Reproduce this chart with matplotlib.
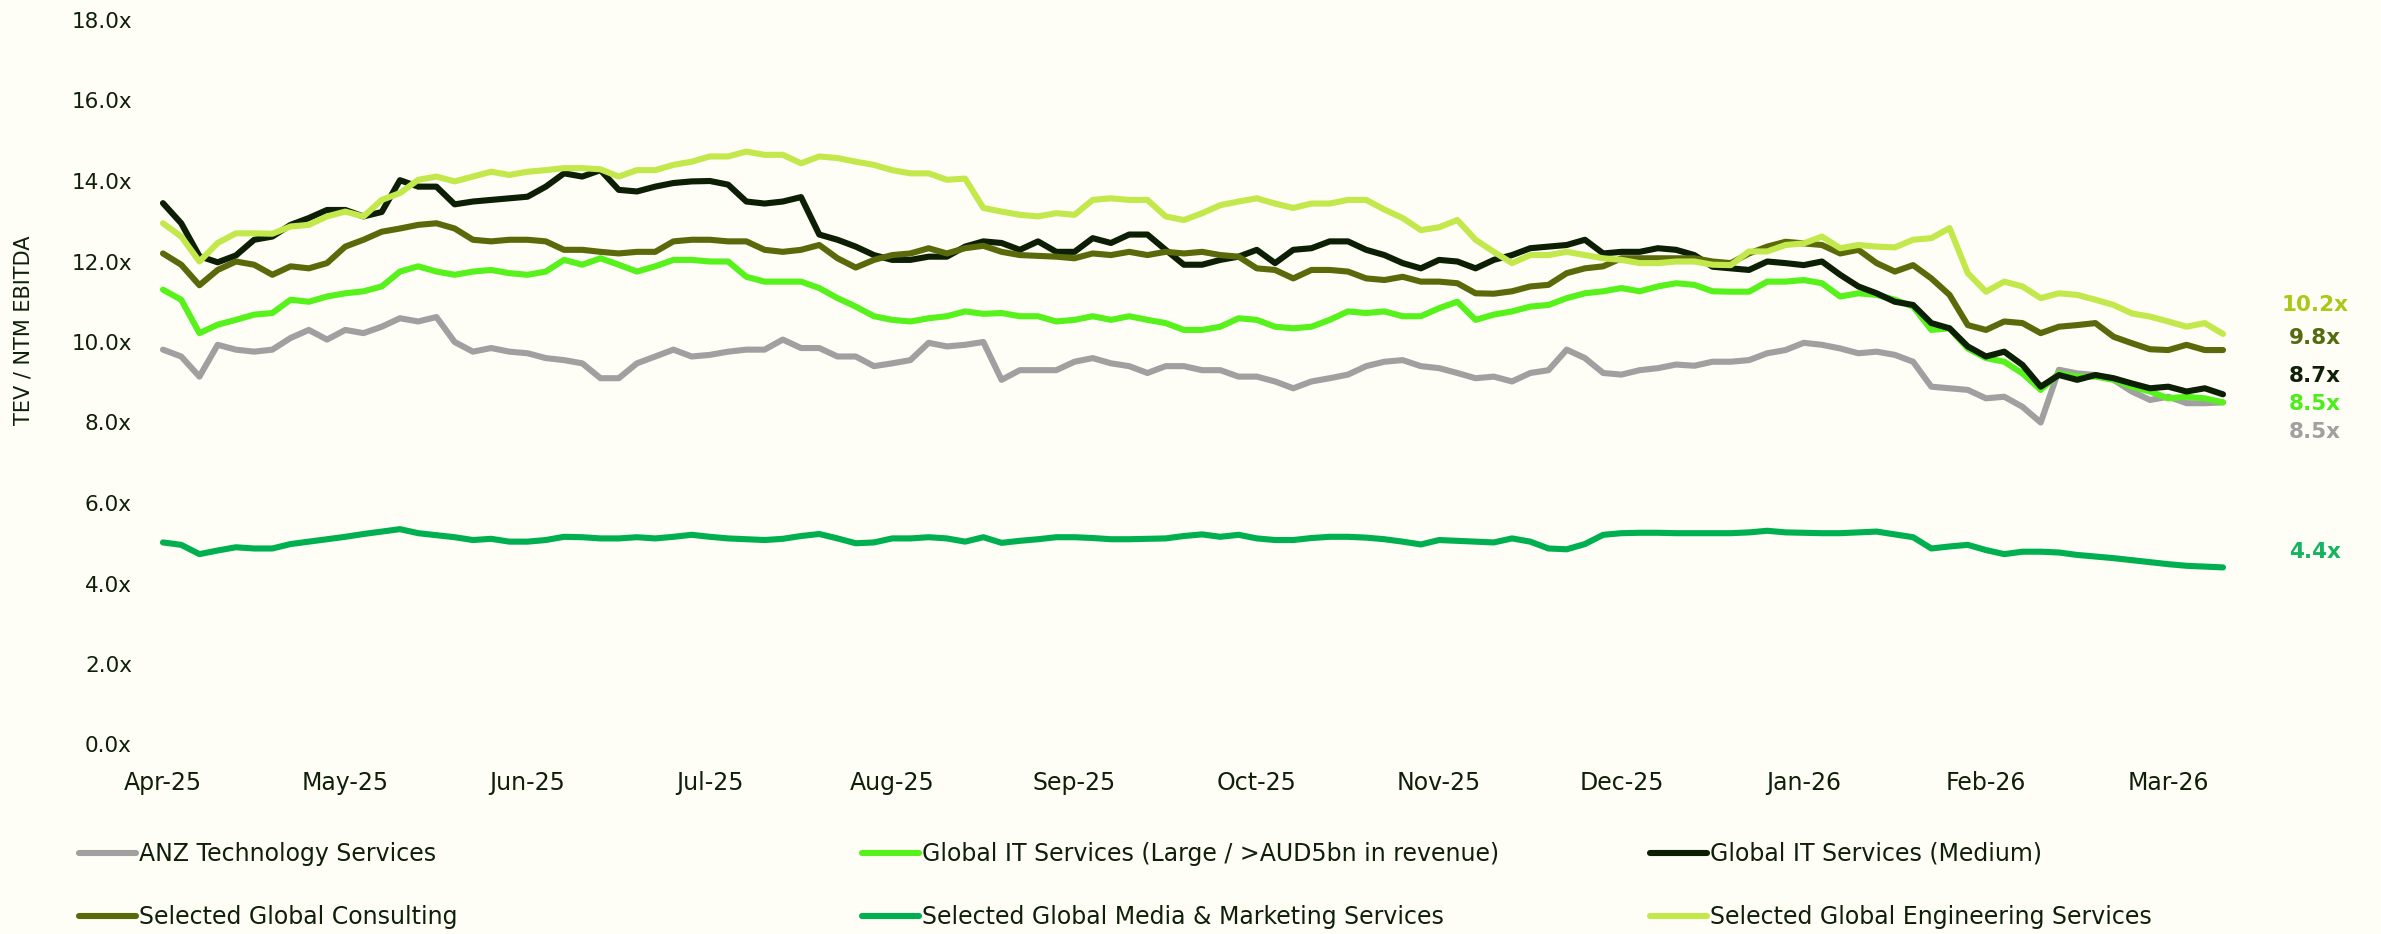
import numpy as np
import matplotlib
matplotlib.use('Agg')
import matplotlib.pyplot as plt

# TEV / NTM EBITDA multiples, sampled every ~0.1 month from Apr-25
months = ['Apr-25', 'May-25', 'Jun-25', 'Jul-25', 'Aug-25', 'Sep-25',
          'Oct-25', 'Nov-25', 'Dec-25', 'Jan-26', 'Feb-26', 'Mar-26']

anz_tech = [9.81, 9.64, 9.14, 9.93, 9.81, 9.76, 9.81, 10.10, 10.30, 10.06, 10.30, 10.22, 10.38, 10.59, 10.51,
            10.62, 10.00, 9.76, 9.85, 9.76, 9.72, 9.60, 9.55, 9.47, 9.10, 9.10, 9.47, 9.64, 9.81,
            9.64, 9.68, 9.76, 9.81, 9.81, 10.06, 9.85, 9.85, 9.64, 9.64, 9.40, 9.47, 9.55, 9.98,
            9.89, 9.93, 10.00, 9.06, 9.30, 9.30, 9.30, 9.51, 9.60, 9.47, 9.40, 9.23, 9.40, 9.40,
            9.30, 9.30, 9.14, 9.14, 9.02, 8.85, 9.02, 9.10, 9.19, 9.40, 9.51, 9.55, 9.40, 9.35,
            9.23, 9.10, 9.14, 9.02, 9.23, 9.30, 9.81, 9.60, 9.23, 9.19, 9.30, 9.35, 9.44, 9.41, 9.51,
            9.51, 9.55, 9.72, 9.80, 9.98, 9.93, 9.84, 9.72, 9.76, 9.68, 9.51, 8.89, 8.85, 8.81,
            8.60, 8.64, 8.39, 8.00, 9.31, 9.22, 9.18, 9.06, 8.77, 8.56, 8.64, 8.48, 8.48, 8.50]

it_large = [11.30, 11.05, 10.22, 10.43, 10.55, 10.68, 10.72, 11.05, 11.00, 11.13, 11.21, 11.26, 11.38, 11.75,
            11.88, 11.75, 11.67, 11.75, 11.79, 11.71, 11.67, 11.75, 12.04, 11.92, 12.08, 11.92, 11.75, 11.88, 12.04,
            12.04, 12.00, 12.00, 11.62, 11.50, 11.50, 11.50, 11.34, 11.09, 10.88, 10.64, 10.55, 10.51, 10.59,
            10.64, 10.76, 10.70, 10.72, 10.64, 10.64, 10.51, 10.55, 10.64, 10.55, 10.64, 10.55, 10.47, 10.30,
            10.30, 10.38, 10.59, 10.55, 10.38, 10.34, 10.38, 10.55, 10.76, 10.72, 10.76, 10.64, 10.64, 10.84,
            11.00, 10.55, 10.68, 10.76, 10.88, 10.92, 11.09, 11.21, 11.26, 11.34, 11.26, 11.38, 11.46, 11.42, 11.26,
            11.25, 11.25, 11.50, 11.50, 11.54, 11.46, 11.13, 11.21, 11.17, 11.05, 10.88, 10.30, 10.34, 9.84,
            9.60, 9.51, 9.22, 8.81, 9.22, 9.14, 9.14, 9.06, 8.89, 8.77, 8.60, 8.64, 8.60, 8.50]

it_medium = [13.45, 12.95, 12.13, 11.98, 12.15, 12.54, 12.62, 12.91, 13.08, 13.28, 13.28, 13.12, 13.23, 14.02,
             13.86, 13.86, 13.42, 13.49, 13.53, 13.57, 13.61, 13.86, 14.19, 14.11, 14.27, 13.78, 13.74, 13.86, 13.95,
             13.99, 14.00, 13.91, 13.49, 13.44, 13.49, 13.60, 12.67, 12.54, 12.37, 12.16, 12.04, 12.04, 12.12,
             12.12, 12.37, 12.50, 12.46, 12.29, 12.50, 12.24, 12.24, 12.58, 12.46, 12.67, 12.67, 12.29, 11.92,
             11.92, 12.04, 12.12, 12.29, 11.96, 12.29, 12.33, 12.50, 12.50, 12.29, 12.16, 11.96, 11.83, 12.04,
             12.00, 11.83, 12.04, 12.16, 12.33, 12.37, 12.41, 12.54, 12.20, 12.24, 12.24, 12.33, 12.29, 12.16, 11.87,
             11.83, 11.79, 12.00, 11.96, 11.91, 12.00, 11.67, 11.38, 11.21, 11.00, 10.92, 10.47, 10.34, 9.89,
             9.64, 9.76, 9.43, 8.89, 9.18, 9.06, 9.18, 9.10, 8.97, 8.85, 8.89, 8.77, 8.85, 8.70]

consulting = [12.20, 11.92, 11.41, 11.79, 12.00, 11.92, 11.67, 11.88, 11.83, 11.96, 12.37, 12.54, 12.74, 12.82,
              12.91, 12.95, 12.82, 12.54, 12.50, 12.54, 12.54, 12.50, 12.29, 12.29, 12.24, 12.20, 12.24, 12.24, 12.50,
              12.54, 12.54, 12.50, 12.50, 12.29, 12.24, 12.29, 12.41, 12.08, 11.85, 12.04, 12.16, 12.20, 12.33,
              12.20, 12.33, 12.39, 12.24, 12.16, 12.14, 12.12, 12.08, 12.20, 12.16, 12.24, 12.16, 12.24, 12.20,
              12.24, 12.16, 12.12, 11.83, 11.79, 11.58, 11.79, 11.79, 11.75, 11.58, 11.54, 11.62, 11.50, 11.50,
              11.46, 11.21, 11.20, 11.26, 11.38, 11.42, 11.71, 11.83, 11.88, 12.08, 12.08, 12.08, 12.08, 12.08, 12.00,
              11.96, 12.20, 12.37, 12.49, 12.45, 12.41, 12.20, 12.29, 11.96, 11.75, 11.91, 11.58, 11.17, 10.42,
              10.30, 10.51, 10.47, 10.22, 10.38, 10.42, 10.47, 10.13, 9.97, 9.82, 9.80, 9.93, 9.80, 9.80]

media = [5.02, 4.96, 4.73, 4.82, 4.90, 4.87, 4.87, 4.98, 5.04, 5.10, 5.16, 5.23, 5.29, 5.35, 5.25,
         5.20, 5.15, 5.08, 5.11, 5.04, 5.04, 5.08, 5.16, 5.15, 5.12, 5.12, 5.15, 5.12, 5.16,
         5.21, 5.16, 5.12, 5.10, 5.08, 5.11, 5.18, 5.23, 5.12, 5.00, 5.02, 5.12, 5.12, 5.15,
         5.12, 5.04, 5.15, 5.01, 5.06, 5.10, 5.15, 5.15, 5.13, 5.10, 5.10, 5.11, 5.12, 5.18,
         5.22, 5.16, 5.21, 5.12, 5.08, 5.08, 5.13, 5.16, 5.16, 5.14, 5.10, 5.04, 4.97, 5.08,
         5.06, 5.04, 5.02, 5.12, 5.04, 4.87, 4.85, 4.98, 5.21, 5.25, 5.26, 5.26, 5.25, 5.25, 5.25,
         5.25, 5.27, 5.31, 5.27, 5.26, 5.25, 5.25, 5.27, 5.29, 5.22, 5.15, 4.87, 4.92, 4.96,
         4.83, 4.73, 4.79, 4.79, 4.77, 4.71, 4.67, 4.63, 4.58, 4.53, 4.48, 4.44, 4.42, 4.40]

engineering = [12.95, 12.62, 12.00, 12.46, 12.70, 12.70, 12.69, 12.87, 12.91, 13.12, 13.24, 13.12, 13.53, 13.70,
               14.03, 14.11, 13.99, 14.11, 14.23, 14.15, 14.23, 14.27, 14.32, 14.32, 14.29, 14.11, 14.27, 14.27, 14.40,
               14.48, 14.61, 14.61, 14.73, 14.65, 14.65, 14.44, 14.61, 14.57, 14.48, 14.40, 14.27, 14.19, 14.19,
               14.03, 14.06, 13.33, 13.24, 13.16, 13.12, 13.20, 13.16, 13.53, 13.57, 13.53, 13.53, 13.12, 13.03,
               13.20, 13.40, 13.49, 13.57, 13.44, 13.33, 13.44, 13.44, 13.53, 13.53, 13.29, 13.08, 12.78, 12.85,
               13.03, 12.54, 12.24, 11.96, 12.16, 12.16, 12.24, 12.16, 12.08, 12.04, 11.96, 11.96, 12.00, 12.00, 11.92,
               11.91, 12.25, 12.25, 12.41, 12.45, 12.62, 12.33, 12.41, 12.37, 12.35, 12.54, 12.58, 12.83, 11.71,
               11.25, 11.50, 11.38, 11.09, 11.21, 11.17, 11.05, 10.92, 10.71, 10.63, 10.51, 10.38, 10.47, 10.20]

series = [anz_tech, it_large, it_medium, consulting, media, engineering]
names = ['ANZ Technology Services',
         'Global IT Services (Large / >AUD5bn in revenue)',
         'Global IT Services (Medium)',
         'Selected Global Consulting',
         'Selected Global Media & Marketing Services',
         'Selected Global Engineering Services']
line_colors = ['#A0A0A0', '#57F21B', '#0C1F04', '#5A6A0A', '#00B050', '#C2E84C']
value_colors = ['#A0A0A0', '#4DED1A', '#0F1F08', '#556B0F', '#16B360', '#A9C818']
# vertical nudges (points) for the end-of-line value labels
value_nudge = [-21, -1, 13, 9, 11, 21]

bg = '#FEFEF6'
ink = '#0F1F0A'
W, H = 2381, 934

fig = plt.figure(figsize=(W / 100, H / 100), dpi=100, facecolor=bg)
ax = fig.add_axes([140 / W, (H - 744.5) / H, 2137.7 / W, 724.5 / H])
ax.set_facecolor(bg)

x = np.arange(len(anz_tech)) / 10
lines = []
for vals, col in zip(series, line_colors):
    ln, = ax.plot(x, vals, color=col, lw=4.4, solid_capstyle='round', solid_joinstyle='round')
    lines.append(ln)

for vals, col, dy in zip(series, value_colors, value_nudge):
    ax.annotate(f'{vals[-1]:.1f}x', xy=(x[-1], vals[-1]), xytext=(66, dy),
                textcoords='offset points', ha='center', va='center',
                fontsize=15.5, fontweight='bold', color=col, annotation_clip=False)

ax.set_xlim(-0.126, 11.6)
ax.set_ylim(0, 18)
ax.set_xticks(range(len(months)))
ax.set_xticklabels(months)
yt = np.arange(0, 19, 2)
ax.set_yticks(yt)
ax.set_yticklabels([f'{v:.1f}x' for v in yt])
ax.tick_params(axis='x', length=0, pad=19, labelsize=17, labelcolor=ink)
ax.tick_params(axis='y', length=0, pad=5.8, labelsize=15.5, labelcolor=ink)
for s in ax.spines.values():
    s.set_visible(False)

fig.text(24 / W, 1 - 330 / H, 'TEV / NTM EBITDA', rotation=90, ha='center', va='center',
         fontsize=15, color=ink)

# legend laid out row-wise in three columns
col_x = [79, 862, 1650]
col_items = [[0, 3], [1, 4], [2, 5]]
for cx, idx in zip(col_x, col_items):
    fig.legend([lines[i] for i in idx], [names[i] for i in idx],
               loc='upper left', bbox_to_anchor=(cx / W, 1 - 842 / H),
               frameon=False, fontsize=17, labelcolor=ink,
               handlelength=2.4, handletextpad=0.15, labelspacing=1.65,
               borderpad=0, borderaxespad=0)

fig.savefig('out.png', dpi=100, facecolor=bg)
